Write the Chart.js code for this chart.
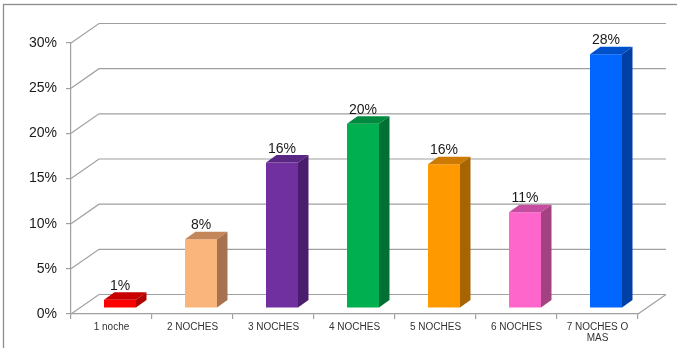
<!DOCTYPE html>
<html>
<head>
<meta charset="utf-8">
<script src="https://cdn.jsdelivr.net/npm/chart.js@4"></script>
<style>
  html, body { margin: 0; padding: 0; background: #fff; overflow: hidden; }
  #wrap { width: 677px; height: 348px; }
</style>
</head>
<body>
<div id="wrap"><canvas id="myChart" width="677" height="348"></canvas></div>
<script>
// Nights stayed, share of guests
const labels = ['1 noche', '2 NOCHES', '3 NOCHES', '4 NOCHES', '5 NOCHES', '6 NOCHES', ['7 NOCHES O', 'MAS']];
const shares = [0.009, 0.076, 0.161, 0.204, 0.159, 0.106, 0.281];
const yTicks = [0, 0.05, 0.10, 0.15, 0.20, 0.25, 0.30];

// front / top / side colours of each bar
const frontColors = ['#ff0000', '#f9b57b', '#7030a0', '#00b050', '#ff9900', '#ff66cc', '#0066ff'];
const topColors = ['#c80000', '#c4875c', '#5a2684', '#008a40', '#cc7a00', '#c54c9e', '#0050cc'];
const sideColors = ['#b00000', '#a67250', '#4a1e6c', '#007034', '#a86400', '#a34280', '#0040a6'];

const wallDepth = { x: 28, y: -19.5 };
const barShift = { x: 8.5, y: -6 };
const barDepth = { x: 10.5, y: -7.5 };
const gridColor = '#a0a0a0';

const pct = v => Math.round(v * 100) + '%';

const box3d = {
    id: 'box3d',
    beforeDraw(chart) {
        const ctx = chart.ctx;
        ctx.save();
        ctx.fillStyle = '#fff';
        ctx.fillRect(0, 0, chart.width, chart.height);
        // outer frame
        ctx.strokeStyle = '#8c8c8c';
        ctx.lineWidth = 1.3;
        ctx.strokeRect(3.5, 4.5, chart.width + 20, chart.height + 20);
        ctx.restore();
    },
    beforeDatasetsDraw(chart) {
        const ctx = chart.ctx;
        const yScale = chart.scales.y;
        const area = chart.chartArea;
        ctx.save();
        ctx.strokeStyle = gridColor;
        ctx.lineWidth = 1.2;
        ctx.beginPath();
        yTicks.forEach(v => {
            const y = yScale.getPixelForValue(v);
            // side wall diagonal and back wall line
            ctx.moveTo(area.left, y);
            ctx.lineTo(area.left + wallDepth.x, y + wallDepth.y);
            ctx.lineTo(area.right + wallDepth.x, y + wallDepth.y);
        });
        // floor right edge
        const y0 = yScale.getPixelForValue(0);
        ctx.moveTo(area.right, y0);
        ctx.lineTo(area.right + wallDepth.x, y0 + wallDepth.y);
        ctx.stroke();
        ctx.restore();

        // bars are drawn a little back into the floor
        ctx.save();
        ctx.translate(barShift.x, barShift.y);
    },
    afterDatasetsDraw(chart) {
        const ctx = chart.ctx;
        ctx.restore();
        const meta = chart.getDatasetMeta(0);
        ctx.save();
        meta.data.forEach((bar, i) => {
            const p = bar.getProps(['x', 'y', 'width', 'base'], true);
            const l = p.x - p.width / 2 + barShift.x;
            const r = p.x + p.width / 2 + barShift.x;
            const t = p.y + barShift.y;
            const b = p.base + barShift.y;
            // top face
            ctx.fillStyle = topColors[i];
            ctx.beginPath();
            ctx.moveTo(l, t);
            ctx.lineTo(r, t);
            ctx.lineTo(r + barDepth.x, t + barDepth.y);
            ctx.lineTo(l + barDepth.x, t + barDepth.y);
            ctx.closePath();
            ctx.fill();
            // side face
            ctx.fillStyle = sideColors[i];
            ctx.beginPath();
            ctx.moveTo(r, t);
            ctx.lineTo(r + barDepth.x, t + barDepth.y);
            ctx.lineTo(r + barDepth.x, b + barDepth.y);
            ctx.lineTo(r, b);
            ctx.closePath();
            ctx.fill();
            // value label
            ctx.fillStyle = '#1a1a1a';
            ctx.font = '14px "Liberation Sans", Arial, sans-serif';
            ctx.textAlign = 'center';
            ctx.textBaseline = 'alphabetic';
            ctx.fillText(pct(shares[i]), (l + r) / 2, t - 10);
        });
        ctx.restore();
    }
};

const ctx = document.getElementById('myChart').getContext('2d');

new Chart(ctx, {
    type: 'bar',
    data: {
        labels: labels,
        datasets: [{
            data: shares,
            backgroundColor: frontColors,
            borderWidth: 0,
            barPercentage: 0.395,
            categoryPercentage: 1
        }]
    },
    options: {
        responsive: false,
        animation: false,
        events: [],
        layout: { padding: { top: 43, right: 39, left: 0, bottom: 0 } },
        plugins: {
            legend: { display: false },
            tooltip: { enabled: false }
        },
        scales: {
            x: {
                afterFit(scale) { scale.height = 34; },
                border: { color: gridColor, width: 1.2 },
                grid: { drawOnChartArea: false, tickLength: 5, color: gridColor, lineWidth: 1.2 },
                ticks: {
                    color: '#333',
                    padding: 2,
                    maxRotation: 0,
                    autoSkip: false,
                    font: { family: '"Liberation Sans", Arial, sans-serif', size: 10, lineHeight: 1.15 }
                }
            },
            y: {
                min: 0,
                max: 0.30,
                afterFit(scale) { scale.width = 71; },
                afterBuildTicks(scale) { scale.ticks = yTicks.map(v => ({ value: v })); },
                border: { color: gridColor, width: 1.2 },
                grid: { drawOnChartArea: false, tickLength: 5, color: gridColor, lineWidth: 1.2 },
                ticks: {
                    color: '#1a1a1a',
                    padding: 9,
                    font: { family: '"Liberation Sans", Arial, sans-serif', size: 14 },
                    callback: v => pct(v)
                }
            }
        }
    },
    plugins: [box3d]
});
</script>
</body>
</html>
